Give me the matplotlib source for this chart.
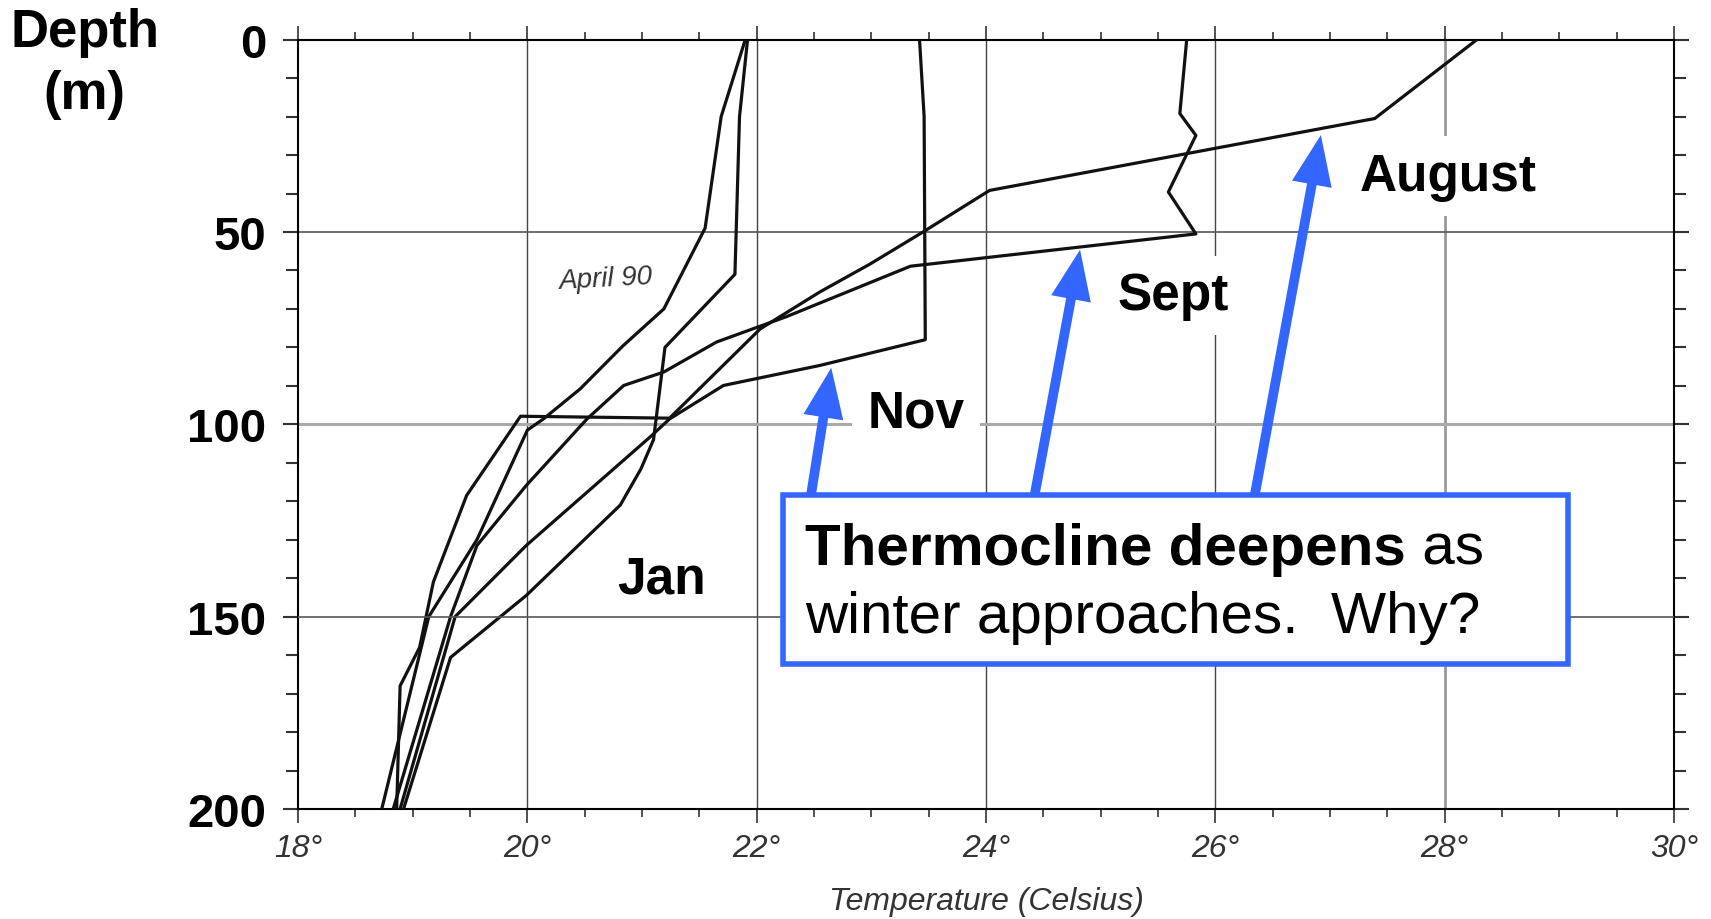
import matplotlib.pyplot as plt
from matplotlib.patches import Rectangle
from matplotlib.ticker import MultipleLocator

plt.rcParams['font.family'] = ['Liberation Sans', 'DejaVu Sans']

# Temperature profiles (deg C) vs depth (m)
april_temp = [21.9, 21.69, 21.55, 21.19, 20.83, 20.46, 20.14, 20.0, 19.56, 19.14, 18.73]
april_depth = [0, 20, 49, 70, 79.7, 90.8, 98.6, 101.5, 130, 150, 200]

jan_temp = [21.92, 21.85, 21.81, 21.2, 21.1, 20.99, 20.81, 19.99, 19.33, 18.92]
jan_depth = [0, 20, 61, 80, 104, 111.6, 121, 144.5, 160.6, 200]

nov_temp = [23.42, 23.46, 23.47, 22.55, 21.71, 21.24, 21.07, 19.99, 19.37, 18.89]
nov_depth = [0, 20, 78, 84.7, 89.9, 98.6, 103.3, 131.5, 150, 200]

sept_temp = [25.75, 25.69, 25.83, 25.59, 25.83, 23.34, 22.26, 21.65, 21.19, 20.84,
             20.52, 19.99, 19.56, 19.33, 18.83]
sept_depth = [0, 19.2, 24.9, 39.6, 50.5, 58.9, 72, 78.6, 86.4, 89.9,
              98.6, 115.9, 131.5, 150, 200]

aug_temp = [28.28, 27.39, 24.03, 23.45, 22.99, 22.55, 22.03, 21.24, 19.94, 19.47,
            19.18, 19.06, 18.89, 18.86]
aug_depth = [0, 20.5, 39.2, 50, 58.3, 65.6, 75.2, 98.4, 97.9, 118.5,
             141, 158, 168, 200]

xticks = [18, 20, 22, 24, 26, 28, 30]
xtick_labels = ['18°', '20°', '22°', '24°', '26°', '28°', '30°']
yticks = [0, 50, 100, 150, 200]

blue = '#3366ff'

fig = plt.figure(figsize=(17.11, 9.2), dpi=100)
ax = fig.add_axes([0.1742, 0.1196, 0.8042, 0.8362])

# grid
for t in [20, 22, 24, 26]:
    ax.axvline(t, color='#444444', lw=1.0, zorder=1)
ax.axvline(28, color='#999999', lw=2.0, zorder=1)
ax.axhline(50, color='#555555', lw=1.2, zorder=1)
ax.axhline(100, color='#aaaaaa', lw=2.2, zorder=1)
ax.axhline(150, color='#555555', lw=1.2, zorder=5)

# profiles
for temp, depth in [(april_temp, april_depth), (jan_temp, jan_depth),
                    (nov_temp, nov_depth), (sept_temp, sept_depth),
                    (aug_temp, aug_depth)]:
    ax.plot(temp, depth, color='#111111', lw=2.3, zorder=3)

ax.set_xlim(18, 30)
ax.set_ylim(200, 0)

ax.set_xticks(xticks)
ax.set_xticklabels(xtick_labels, fontstyle='italic', color='#333333')
ax.xaxis.set_minor_locator(MultipleLocator(0.5))
ax.set_yticks(yticks)
ax.set_yticklabels([str(v) for v in yticks], fontweight='bold')
ax.yaxis.set_minor_locator(MultipleLocator(10))

ax.tick_params(axis='x', which='both', top=True, bottom=True, direction='out', color='#333333')
ax.tick_params(axis='x', which='major', length=10, width=1.2, labelsize=23, pad=7)
ax.tick_params(axis='x', which='minor', length=6, width=1.2)
ax.tick_params(axis='y', which='both', left=True, right=True, direction='out', color='#333333')
ax.tick_params(axis='y', which='major', length=11, width=1.5, labelsize=34, pad=12)
ax.tick_params(axis='y', which='minor', length=8.5, width=1.5)
for lab in ax.get_yticklabels():
    lab.set_va('center_baseline')

for s in ax.spines.values():
    s.set_linewidth(1.5)

ax.set_xlabel('Temperature (Celsius)', fontstyle='italic', fontsize=23, color='#333333')
ax.xaxis.set_label_coords(0.5, -0.1)
ax.set_ylabel('Depth\n(m)', rotation=0, fontsize=38, fontweight='bold',
              ha='center', va='center', linespacing=1.3)
ax.yaxis.set_label_coords(-0.155, 0.97)

ax.text(20.68, 62, 'April 90', fontstyle='italic', fontsize=20, color='#333333',
        ha='center', va='center', rotation=3, zorder=4)

# month labels
lab_box = dict(facecolor='white', edgecolor='none', pad=11)
for name, t, d in [('August', 28.03, 35.5), ('Sept', 25.63, 66.5),
                   ('Nov', 23.39, 97.0), ('Jan', 21.17, 140.3)]:
    ax.text(t, d, name, fontsize=37, fontweight='bold', ha='center', va='center',
            bbox=lab_box, zorder=4)

# arrows from the box to the thermoclines
astyle = 'simple,head_length=0.72,head_width=0.58,tail_width=0.14'
for tip, tail in [((22.65, 85.3), (22.47, 119)),
                  ((24.82, 54.6), (24.42, 119)),
                  ((26.92, 24.8), (26.34, 119))]:
    ax.annotate('', xy=tip, xytext=tail,
                arrowprops=dict(arrowstyle=astyle, mutation_scale=50, color=blue,
                                lw=0, shrinkA=0, shrinkB=0), zorder=5)

box = Rectangle((22.23, 118.5), 29.075 - 22.23, 162.4 - 118.5, facecolor='white',
                edgecolor=blue, lw=4, zorder=6, clip_on=False)
ax.add_patch(box)

t1 = ax.text(22.42, 136.3, 'Thermocline deepens', fontsize=42, fontweight='bold',
             va='baseline', ha='left', zorder=7)
ax.annotate(' as', xy=(1, 0), xycoords=t1, fontsize=42, va='bottom', ha='left', zorder=7)
ax.text(22.42, 154, 'winter approaches.  Why?', fontsize=42, va='baseline',
        ha='left', zorder=7)

fig.savefig('out.png', dpi=100)
